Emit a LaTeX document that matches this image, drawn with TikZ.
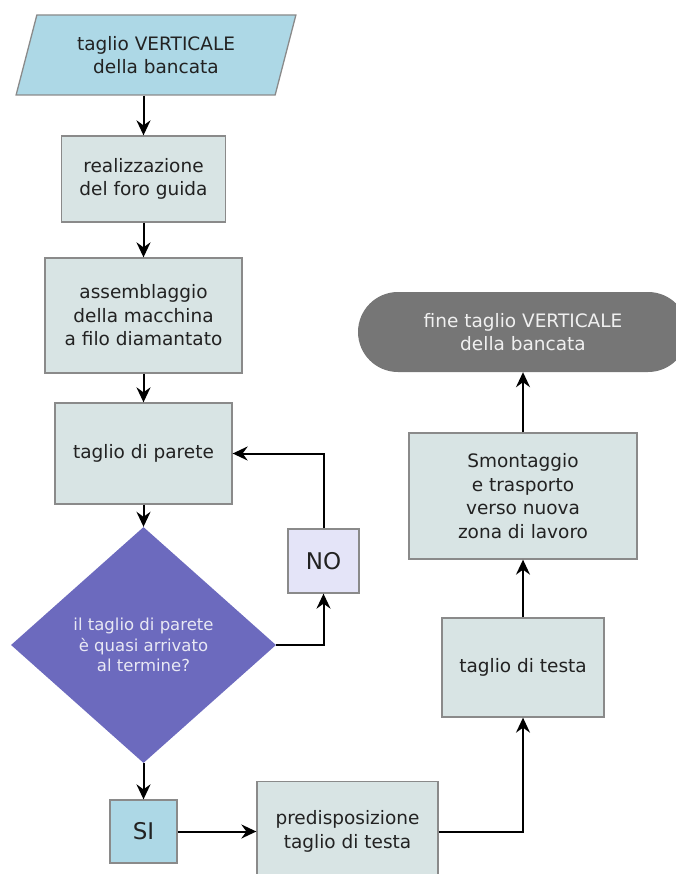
\documentclass[tikz,border=0pt]{standalone}
\usepackage{fontspec}
\setmainfont{DejaVu Sans}
\usetikzlibrary{shapes.geometric,arrows.meta}

\definecolor{startblue}{RGB}{173,216,230}
\definecolor{boxfill}{RGB}{216,228,228}
\definecolor{boxline}{RGB}{138,138,138}
\definecolor{askfill}{RGB}{108,106,190}
\definecolor{askText}{RGB}{232,232,244}
\definecolor{nofill}{RGB}{228,228,248}
\definecolor{endfill}{RGB}{118,118,118}
\definecolor{endText}{RGB}{240,240,240}
\definecolor{inktext}{RGB}{34,34,34}

\tikzset{
  base/.style={align=center, inner sep=0pt, text=inktext,
    font=\fontsize{18.5}{23.5}\selectfont},
  procbox/.style={base, rectangle, draw=boxline, line width=1.3pt, fill=boxfill},
  startbox/.style={base, trapezium, trapezium left angle=70, trapezium right angle=110,
    trapezium stretches=true, draw=boxline, line width=1.3pt, fill=startblue},
  askbox/.style={base, diamond, fill=askfill, text=askText,
    font=\fontsize{16.5}{20.5}\selectfont},
  nobox/.style={base, rectangle, draw=boxline, line width=1.3pt, fill=nofill,
    font=\fontsize{23}{26}\selectfont},
  sibox/.style={base, rectangle, draw=boxline, line width=1.3pt, fill=startblue,
    font=\fontsize{23}{26}\selectfont},
  endbox/.style={base, rectangle, rounded corners=40pt, fill=endfill, text=endText},
  flow/.style={line width=2pt, draw=black,
    -{Stealth[length=15pt,width=14pt,inset=5pt]}}
}

\begin{document}
\begin{tikzpicture}[x=1pt,y=-1pt]
  \useasboundingbox (0,0) rectangle (676,874);
  \clip (0,0) rectangle (676,874);

  % left column
  \node[startbox, minimum width=280pt, minimum height=80pt] (start) at (156,55)
    {taglio VERTICALE\\della bancata};
  \node[procbox, minimum width=164pt, minimum height=86pt] (realiz) at (143.5,179)
    {realizzazione\\del foro guida};
  \node[procbox, minimum width=197pt, minimum height=115pt] (assemb) at (143.5,315.5)
    {assemblaggio\\della macchina\\a filo diamantato};
  \node[procbox, minimum width=177pt, minimum height=101pt] (parete) at (143.5,453.5)
    {taglio di parete};
  \node[askbox, minimum width=265pt, minimum height=236pt] (ask) at (143.5,645)
    {il taglio di parete\\è quasi arrivato\\al termine?};
  \node[nobox, minimum width=71pt, minimum height=64pt] (no) at (323.5,561)
    {NO};
  \node[sibox, minimum width=67pt, minimum height=63pt] (si) at (143.5,831.5)
    {SI};

  % right column
  \node[procbox, minimum width=181pt, minimum height=100pt] (predisp) at (347.5,831.5)
    {predisposizione\\taglio di testa};
  \node[procbox, minimum width=162pt, minimum height=99pt] (testa) at (523,667.5)
    {taglio di testa};
  \node[procbox, minimum width=228pt, minimum height=126pt] (smont) at (523,496)
    {Smontaggio\\e trasporto\\verso nuova\\zona di lavoro};
  \node[endbox, minimum width=330pt, minimum height=80pt] (fine) at (523,332)
    {fine taglio VERTICALE\\della bancata};

  % connectors
  \draw[flow] (realiz.north |- start.south) -- (realiz.north);
  \draw[flow] (realiz.south) -- (assemb.north);
  \draw[flow] (assemb.south) -- (parete.north);
  \draw[flow] (parete.south) -- (ask.north);
  \draw[flow] (ask.south) -- (si.north);
  \draw[flow] (ask.east) -| (no.south);
  \draw[flow] (no.north) |- (parete.east);
  \draw[flow] (si.east) -- (predisp.west);
  \draw[flow] (predisp.east) -| (testa.south);
  \draw[flow] (testa.north) -- (smont.south);
  \draw[flow] (smont.north) -- (fine.south);
\end{tikzpicture}
\end{document}
